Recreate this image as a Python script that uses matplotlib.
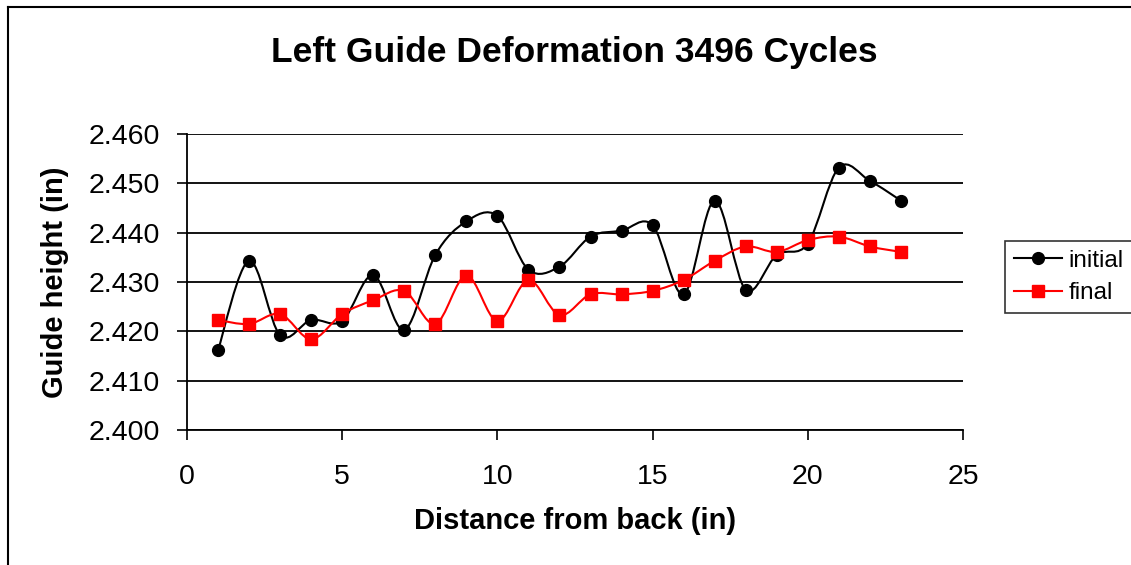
import matplotlib
matplotlib.use("Agg")
import matplotlib.pyplot as plt
from matplotlib.path import Path
from matplotlib.patches import PathPatch
from matplotlib.lines import Line2D
import numpy as np

plt.rcParams['font.family'] = ['Liberation Sans', 'DejaVu Sans']

distance = list(range(1, 24))
initial = [2.4162, 2.4343, 2.4192, 2.4223, 2.4221, 2.4314, 2.4203, 2.4355,
           2.4423, 2.4434, 2.4325, 2.4331, 2.4392, 2.4404, 2.4415, 2.4275,
           2.4465, 2.4284, 2.4355, 2.4378, 2.4532, 2.4505, 2.4465]
final = [2.4223, 2.4215, 2.4235, 2.4184, 2.4235, 2.4263, 2.4282, 2.4215,
         2.4313, 2.4221, 2.4304, 2.4233, 2.4275, 2.4275, 2.4282, 2.4304,
         2.4343, 2.4372, 2.4361, 2.4385, 2.4392, 2.4372, 2.4361]
y_ticks = [2.400, 2.410, 2.420, 2.430, 2.440, 2.450, 2.460]
x_ticks = [0, 5, 10, 15, 20, 25]


def smooth_path(xs, ys):
    # Excel-style smoothed line: cubic Bezier segments through each point
    p = np.column_stack([xs, ys]).astype(float)
    ext = np.vstack([p[0], p, p[-1]])
    verts = [p[0]]
    codes = [Path.MOVETO]
    for i in range(len(p) - 1):
        p0, p1, p2, p3 = ext[i], ext[i + 1], ext[i + 2], ext[i + 3]
        verts += [p1 + (p2 - p0) / 6, p2 - (p3 - p1) / 6, p2]
        codes += [Path.CURVE4] * 3
    return Path(verts, codes)


fig = plt.figure(figsize=(11.31, 5.65), dpi=100)
ax = fig.add_axes([187 / 1131, 1 - 430 / 565, (963 - 187) / 1131, (430 - 134) / 565])

ax.add_patch(PathPatch(smooth_path(distance, initial), fill=False,
                       edgecolor='black', lw=1.5, zorder=3))
ax.add_patch(PathPatch(smooth_path(distance, final), fill=False,
                       edgecolor='#ff0000', lw=1.5, zorder=3))
ax.plot(distance, initial, 'o', color='black', ms=8.5, zorder=4)
ax.plot(distance, final, 's', color='#ff0000', ms=8, zorder=5)

ax.set_xlim(0, 25)
ax.set_ylim(2.400, 2.460)
ax.set_xticks(x_ticks)
ax.set_yticks(y_ticks)
ax.set_yticklabels(['%.3f' % v for v in y_ticks])
ax.tick_params(labelsize=20.5, direction='out', length=7.5, width=1.2, colors='black')
ax.tick_params(axis='x', pad=17)
ax.tick_params(axis='y', pad=12)
ax.grid(axis='y', color='black', lw=1.3)
ax.set_axisbelow(True)
for s in ['top', 'right']:
    ax.spines[s].set_visible(False)
for s in ['left', 'bottom']:
    ax.spines[s].set_linewidth(1.3)

ax.set_xlabel('Distance from back (in)', fontsize=21, fontweight='bold', labelpad=12)
ax.set_ylabel('Guide height (in)', fontsize=21, fontweight='bold', labelpad=14)
fig.text(0.508, 1 - 62 / 565, 'Left Guide Deformation 3496 Cycles',
         fontsize=25.5, fontweight='bold', ha='center', va='baseline')

handles = [Line2D([], [], color='black', marker='o', ms=8.5, lw=1.5),
           Line2D([], [], color='#ff0000', marker='s', ms=8, lw=1.5)]
leg = fig.legend(handles, ['initial', 'final'], loc='upper left',
                 bbox_to_anchor=(1005 / 1131, 1 - 241 / 565), fontsize=17.5,
                 frameon=True, fancybox=False, borderaxespad=0, handlelength=2.0,
                 handletextpad=0.25, borderpad=0.35, labelspacing=0.45)
leg.get_frame().set_edgecolor('black')
leg.get_frame().set_linewidth(1.2)

# chart-area border
fig.add_artist(Line2D([8 / 1131, 8 / 1131], [0, 1 - 7 / 565], color='black', lw=1.5,
                      transform=fig.transFigure))
fig.add_artist(Line2D([8 / 1131, 1], [1 - 7 / 565, 1 - 7 / 565], color='black', lw=1.5,
                      transform=fig.transFigure))

fig.savefig('out.png', dpi=100)
